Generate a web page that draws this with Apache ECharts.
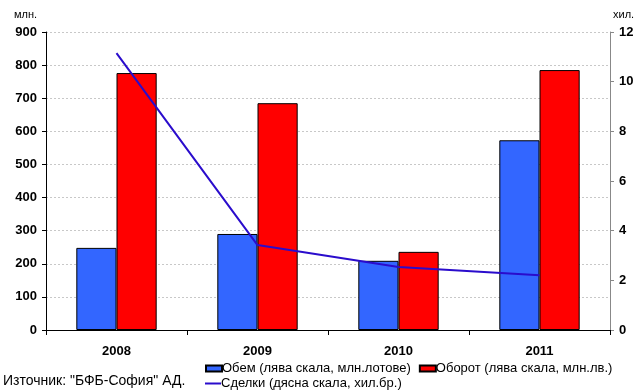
<!DOCTYPE html>
<html>
<head>
<meta charset="utf-8">
<script src="https://cdn.jsdelivr.net/npm/echarts@6/dist/echarts.min.js"></script>
<style>
  html, body { margin: 0; padding: 0; background: #fff; }
  #chart { width: 640px; height: 392px; }
</style>
</head>
<body>
<div id="chart"></div>
<script>
var years = ['2008', '2009', '2010', '2011'];
var volume = [248, 290, 209, 573];      // млн. лотове
var turnover = [776, 685, 236, 785];    // млн. лв.
var deals = [11.15, 3.42, 2.54, 2.2];   // хил. бр.

var nameVolume = 'Обем (лява скала, млн.лотове)';
var nameTurnover = 'Оборот (лява скала, млн.лв.)';
var nameDeals = 'Сделки (дясна скала, хил.бр.)';

var font = 'Liberation Sans, Arial, sans-serif';

var chart = echarts.init(document.getElementById('chart'));

var legendText = { fontFamily: font, fontSize: 13, color: '#000', padding: [0, 0, 0, -5] };

var option = {
  animation: false,
  grid: { left: 46, right: 30, top: 32, bottom: 62 },
  legend: [
    {
      data: [nameVolume, nameTurnover],
      left: 200, top: 357,
      itemWidth: 16, itemHeight: 6, itemGap: 8,
      icon: 'rect',
      textStyle: legendText
    },
    {
      data: [nameDeals],
      left: 200, top: 372,
      itemWidth: 16, itemHeight: 2,
      icon: 'rect',
      textStyle: legendText
    }
  ],
  graphic: [
    { type: 'text', left: 14, top: 9, style: { text: 'млн.', font: '11px ' + font, fill: '#000' } },
    { type: 'text', left: 613, top: 9, style: { text: 'хил.', font: '11px ' + font, fill: '#000' } },
    { type: 'text', left: 3, top: 374, style: { text: 'Източник: "БФБ-София" АД.', font: '14px ' + font, fill: '#000' } }
  ],
  xAxis: {
    type: 'category',
    data: years,
    axisLine: { lineStyle: { color: '#000', width: 1 } },
    axisTick: { show: true, alignWithLabel: false, length: 5, lineStyle: { color: '#000' } },
    axisLabel: { fontFamily: font, fontWeight: 'bold', fontSize: 13, color: '#000', margin: 15 }
  },
  yAxis: [
    {
      type: 'value', min: 0, max: 900, interval: 100,
      axisLine: { show: true, lineStyle: { color: '#000' } },
      axisTick: { show: true, length: 4, lineStyle: { color: '#000' } },
      axisLabel: { fontFamily: font, fontWeight: 'bold', fontSize: 13, color: '#000', margin: 9 },
      splitLine: { show: true, lineStyle: { color: '#c8c8c8', type: [2, 2], width: 1 } }
    },
    {
      type: 'value', min: 0, max: 12, interval: 2,
      axisLine: { show: true, lineStyle: { color: '#888' } },
      axisTick: { show: true, length: 4, lineStyle: { color: '#888' } },
      axisLabel: { fontFamily: font, fontWeight: 'bold', fontSize: 13, color: '#000', margin: 9 },
      splitLine: { show: false }
    }
  ],
  series: [
    {
      name: nameVolume, type: 'bar', data: volume,
      barGap: '0%', barCategoryGap: '43%',
      itemStyle: { color: '#3366ff', borderColor: '#000', borderWidth: 1 }
    },
    {
      name: nameTurnover, type: 'bar', data: turnover,
      itemStyle: { color: '#ff0000', borderColor: '#000', borderWidth: 1 }
    },
    {
      name: nameDeals, type: 'line', yAxisIndex: 1, data: deals,
      symbol: 'none',
      lineStyle: { color: '#2a0ccc', width: 2 },
      itemStyle: { color: '#2a0ccc' }
    }
  ]
};

chart.setOption(option);
</script>
</body>
</html>
